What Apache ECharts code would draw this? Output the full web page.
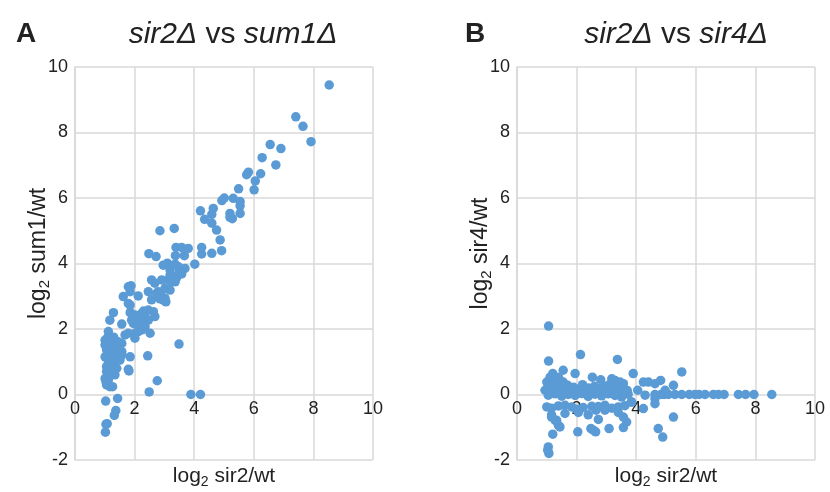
<!DOCTYPE html>
<html>
<head>
<meta charset="utf-8">
<script src="https://cdn.jsdelivr.net/npm/echarts@6/dist/echarts.min.js"></script>
<style>
html,body{margin:0;padding:0;background:#fff;}
#chart{width:830px;height:492px;}
</style>
</head>
<body>
<div id="chart"></div>
<script>
// Panel A: log2 sir2/wt (x) vs log2 sum1/wt (y)
const pointsA = [
[8.53,9.45],[7.41,8.48],[7.65,8.19],[7.92,7.72],[6.55,7.63],[6.91,7.51],[6.28,7.23],[6.74,7.01],[5.82,6.79],[5.76,6.71],[6.23,6.74],[6.05,6.52],[5.49,6.28],[6.01,6.25],[5.01,6.0],[4.93,5.92],[5.31,5.99],[5.54,5.89],[5.54,5.76],[4.21,5.61],[4.64,5.68],[4.59,5.50],[5.2,5.53],[5.54,5.53],[5.2,5.41],[5.28,5.37],[4.35,5.35],[4.59,5.23],[4.75,5.02],[4.87,4.72],[3.33,5.07],[2.85,5.0],
[3.39,4.49],[3.58,4.49],[3.80,4.46],[3.37,4.24],[3.67,4.24],[4.25,4.49],[4.25,4.29],[4.59,4.31],[4.92,4.39],[2.48,4.30],[2.72,4.21],[4.02,3.98],
[2.96,3.95],[3.10,4.01],[3.19,3.80],[3.36,3.98],[3.47,3.90],[3.58,3.68],[3.69,3.85],[3.19,3.65],[3.30,3.60],[3.36,3.44],[3.24,3.44],[3.19,3.19],[3.02,3.24],[2.80,3.14],[2.91,3.50],[3.13,3.50],[2.57,3.50],[2.68,3.40],[3.40,3.55],[3.50,3.75],
[1.79,3.29],[1.88,3.32],[1.85,3.14],[2.12,3.01],[1.62,2.99],[2.46,3.14],[2.74,3.09],[2.91,2.99],[3.02,2.94],[2.85,2.92],[2.96,2.88],[3.05,2.83],[1.79,2.78],[1.85,2.73],[2.57,2.89],
[1.29,2.50],[1.17,2.27],[1.57,2.15],[1.85,2.50],[2.01,2.43],[2.24,2.48],[2.46,2.58],[2.63,2.53],[2.68,2.38],[2.35,2.38],[1.90,2.27],[2.12,2.27],[2.29,2.33],[2.46,2.27],[1.96,2.17],[2.12,2.12],[2.35,2.07],[2.24,1.97],[2.12,1.92],[2.01,1.87],[2.01,1.72],[2.52,1.87],[1.79,1.87],[1.68,1.82],[1.12,1.92],[2.05,2.35],[2.20,2.20],[1.95,2.40],[2.30,2.55],
[1.01,1.66],[1.12,1.66],[1.23,1.66],[1.34,1.61],[1.45,1.61],[1.57,1.56],[1.01,1.51],[1.17,1.46],[1.29,1.46],[1.45,1.46],[1.06,1.36],[1.23,1.31],[1.40,1.31],[1.57,1.31],[1.01,1.15],[1.12,1.15],[1.29,1.10],[1.45,1.15],[1.57,1.21],[1.12,1.00],[1.34,1.00],[1.51,1.05],[1.06,0.85],[1.23,0.85],[1.06,0.70],[1.17,0.65],[1.34,0.60],[1.01,0.49],[1.12,0.44],[1.06,0.29],[1.17,0.24],[1.26,0.24],[1.04,0.39],[1.10,1.75],[1.30,1.75],[1.20,1.20],[1.40,0.80],
[1.85,1.15],[1.79,0.77],[1.81,0.72],[2.44,1.18],[3.49,1.54],[2.76,0.42],[2.49,0.08],[3.89,0.0],[4.21,0.0],[1.03,-0.20],[1.43,-0.12],[1.37,-0.49],[1.32,-0.64],[1.04,-0.91],[1.08,-0.89],[1.02,-1.15]
];

// Panel B: log2 sir2/wt (x) vs log2 sir4/wt (y)
const pointsB = [
[1.06,2.09],[2.13,1.22],[1.06,1.02],[3.37,1.07],[1.55,0.74],[1.95,0.64],[1.20,0.64],[1.11,0.53],[1.39,0.53],[1.00,0.38],[1.22,0.43],[1.44,0.43],[1.55,0.38],[2.53,0.53],[2.81,0.45],[3.18,0.48],[3.29,0.43],[3.46,0.38],[3.57,0.33],[3.90,0.64],[5.53,0.69],[4.24,0.38],[4.41,0.38],[4.63,0.33],[4.82,0.43],[5.25,0.28],[4.05,0.13],[4.97,0.13],[4.30,-0.02],
[4.63,0],[4.83,0],[4.94,0],[5.08,0],[5.30,0],[5.53,0],[5.78,0],[5.97,0],[6.11,0],[6.31,0],[6.59,0],[6.76,0],[6.95,0],[7.43,0],[7.67,0],[7.95,0],[8.55,0],
[4.63,-0.12],[4.63,-0.28],[4.24,-0.43],[3.85,-0.23],[5.25,-0.69],[4.74,-1.04],[4.89,-1.30],[3.68,-0.84],[3.57,-1.01],[3.09,-1.04],[2.73,-0.76],[2.04,-1.14],[1.20,-1.21],[2.48,-1.04],[2.56,-1.09],[2.64,-1.14],[1.16,-0.69],[1.28,-0.79],[1.39,-0.94],[1.44,-0.99],[1.05,-1.60],[1.03,-1.70],[1.07,-1.80],
[0.94,0.13],[1.16,0.10],[1.39,0.15],[1.61,0.12],[1.84,0.08],[2.06,0.16],[2.28,0.14],[2.51,0.10],[2.73,0.17],[2.95,0.11],[3.18,0.15],[3.40,0.09],[3.62,0.14],
[1.05,-0.02],[1.28,0.02],[1.50,-0.05],[1.72,0.00],[1.95,-0.03],[2.17,0.03],[2.39,-0.06],[2.62,0.01],[2.84,-0.04],[3.06,0.02],[3.29,-0.03],[3.51,-0.08],[3.73,0.01],
[1.00,-0.38],[1.16,-0.42],[1.39,-0.35],[1.61,-0.33],[1.84,-0.38],[2.00,-0.45],[2.22,-0.40],[2.51,-0.36],[2.73,-0.37],[2.95,-0.33],[3.18,-0.42],[3.40,-0.38],[3.62,-0.34],[3.83,-0.23],
[1.16,-0.62],[1.61,-0.58],[2.06,-0.55],[2.39,-0.62],[3.40,-0.55],[1.33,-0.79],[2.65,-0.48],[2.95,-0.48],[3.57,-0.69],
[1.05,0.25],[1.30,0.22],[1.70,0.28],[2.20,0.30],[2.40,0.20],[2.90,0.25],[3.10,0.30],[3.35,0.20],[3.70,0.12],[1.50,0.30],[2.60,0.25],[1.90,0.22]
];

const xTicksMin = 0, xTicksMax = 10, tickStep = 2;
const yTicksMin = -2, yTicksMax = 10;

const FONT = 'Liberation Sans, Arial, sans-serif';
const TXT = '#222';
const GRIDC = '#d9d9d9';
const DOT = '#5b9bd5';

function axisName(rest) {
  return '{a|log}{s|2}{a| ' + rest + '}';
}
function nameRich(size) {
  return {
    a: {fontSize: size, lineHeight: 26, color: TXT, fontFamily: FONT, fontWeight: 'normal'},
    s: {fontSize: Math.round(size * 0.65), lineHeight: 13, verticalAlign: 'bottom', color: TXT, fontFamily: FONT, fontWeight: 'normal'}
  };
}

function xAxis(idx) {
  return {
    type: 'value', gridIndex: idx, min: xTicksMin, max: xTicksMax, interval: tickStep,
    axisLine: {show: false, onZero: false},
    axisTick: {show: false},
    axisLabel: {fontSize: 18, color: TXT, fontFamily: FONT, margin: -60},
    splitLine: {show: true, lineStyle: {color: GRIDC, width: 1.5}},
    name: axisName('sir2/wt'), nameLocation: 'middle', nameGap: 3, nameMoveOverlap: false,
    nameTextStyle: {rich: nameRich(21)}
  };
}
function yAxis(idx, rest) {
  return {
    type: 'value', gridIndex: idx, min: yTicksMin, max: yTicksMax, interval: tickStep,
    axisLine: {show: true, lineStyle: {color: GRIDC, width: 1.5}},
    axisTick: {show: false},
    axisLabel: {fontSize: 18, color: TXT, fontFamily: FONT, margin: 7},
    splitLine: {show: true, lineStyle: {color: GRIDC, width: 1.5}},
    name: axisName(rest), nameLocation: 'middle', nameGap: 23, nameRotate: 90, nameMoveOverlap: false,
    nameTextStyle: {rich: nameRich(23), padding: [0, 0, 0, 20]}
  };
}

const titleRich = {
  i: {fontStyle: 'italic', fontWeight: 'normal', fontSize: 30, color: TXT, fontFamily: FONT},
  n: {fontStyle: 'normal', fontWeight: 'normal', fontSize: 30, color: TXT, fontFamily: FONT}
};

const option = {
  animation: false,
  backgroundColor: '#fff',
  title: [
    {text: 'A', left: 11, top: 15, textStyle: {fontSize: 28, fontWeight: 'bold', color: TXT, fontFamily: FONT}},
    {text: '{i|sir2Δ}{n| vs }{i|sum1Δ}', left: 228, top: 15, textAlign: 'center', textStyle: {fontWeight: 'normal', rich: titleRich}},
    {text: 'B', left: 460, top: 15, textStyle: {fontSize: 28, fontWeight: 'bold', color: TXT, fontFamily: FONT}},
    {text: '{i|sir2Δ}{n| vs }{i|sir4Δ}', left: 671, top: 15, textAlign: 'center', textStyle: {fontWeight: 'normal', rich: titleRich}}
  ],
  grid: [
    {left: 75, top: 67, width: 298, height: 393, containLabel: false, outerBoundsMode: 'none'},
    {left: 517, top: 67, width: 298, height: 393, containLabel: false, outerBoundsMode: 'none'}
  ],
  xAxis: [xAxis(0), xAxis(1)],
  yAxis: [yAxis(0, 'sum1/wt'), yAxis(1, 'sir4/wt')],
  series: [
    {type: 'scatter', xAxisIndex: 0, yAxisIndex: 0, data: pointsA, symbolSize: 9.5, itemStyle: {color: DOT, opacity: 1}},
    {type: 'scatter', xAxisIndex: 1, yAxisIndex: 1, data: pointsB, symbolSize: 9.5, itemStyle: {color: DOT, opacity: 1}}
  ]
};

const chart = echarts.init(document.getElementById('chart'), null, {renderer: 'canvas'});
chart.setOption(option);
</script>
</body>
</html>
